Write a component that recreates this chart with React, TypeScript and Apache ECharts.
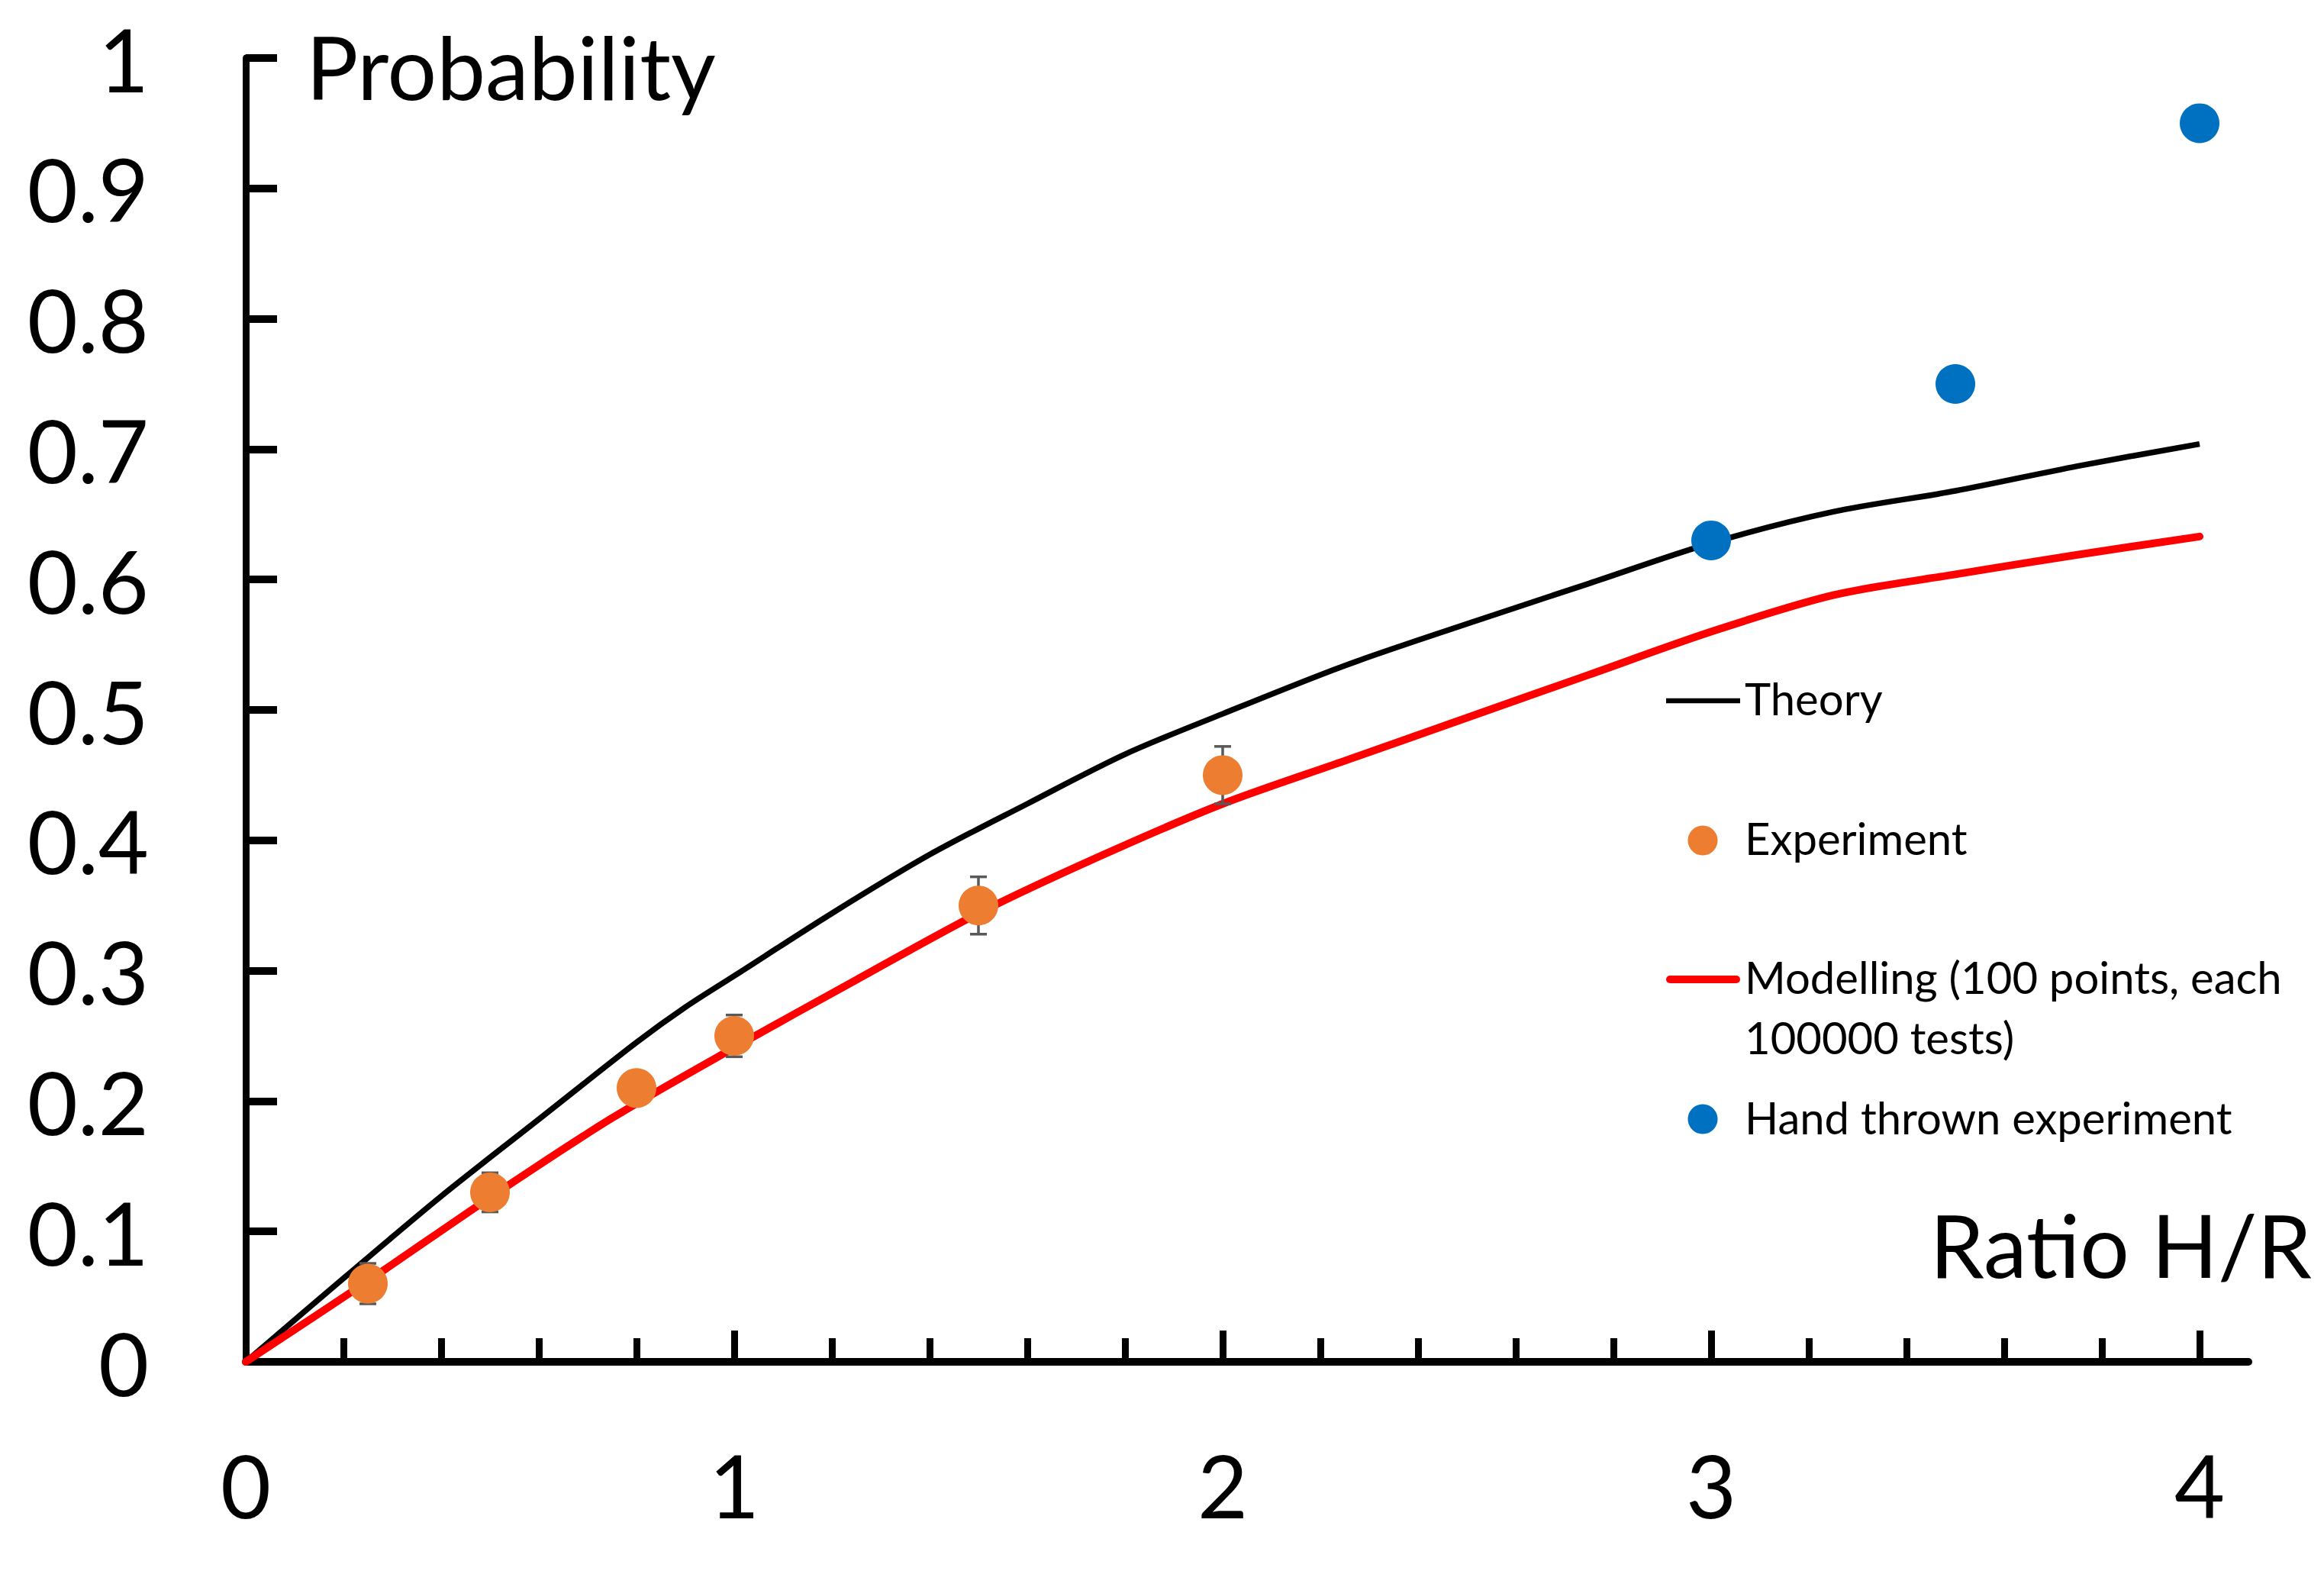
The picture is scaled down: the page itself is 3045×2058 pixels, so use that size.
import React, { useEffect, useRef } from "react";
import * as echarts from "echarts";

// ---- data ----
const THEORY_X = [0, 0.2, 0.4, 0.6, 0.8, 0.9, 1.0, 1.2, 1.4, 1.6, 1.8, 2.0, 2.25, 2.5, 2.75, 3.0, 3.25, 3.5, 3.75, 4.0];
const THEORY_Y = [0, 0.064, 0.127, 0.186, 0.245, 0.272, 0.296, 0.344, 0.389, 0.428, 0.466, 0.497, 0.534, 0.566, 0.597, 0.628, 0.652, 0.668, 0.687, 0.704];

const MODEL_X = [0, 0.25, 0.5, 0.75, 1.0, 1.25, 1.5, 1.75, 2.0, 2.25, 2.5, 2.75, 3.0, 3.25, 3.5, 3.75, 4.0];
const MODEL_Y = [0, 0.062, 0.126, 0.187, 0.241, 0.293, 0.344, 0.388, 0.428, 0.461, 0.494, 0.527, 0.56, 0.588, 0.604, 0.619, 0.633];

const EXP_X = [0.25, 0.5, 0.8, 1.0, 1.5, 2.0];
const EXP_Y = [0.06, 0.13, 0.21, 0.25, 0.35, 0.45];
const EXP_ERR = [0.0155, 0.015, 0, 0.016, 0.022, 0.022];

const HAND_X = [3, 3.5, 4];
const HAND_Y = [0.63, 0.75, 0.95];

const X_LABEL_VALUES = [0, 1, 2, 3, 4];
const X_MAJOR_TICKS = [1, 2, 3, 4];
const X_MINOR_TICKS = [0.2, 0.4, 0.6, 0.8, 1.2, 1.4, 1.6, 1.8, 2.2, 2.4, 2.6, 2.8, 3.2, 3.4, 3.6, 3.8];

const SERIES_NAMES = [
  "Theory",
  "Experiment",
  "Modelling (100 points, each\n100000 tests)",
  "Hand thrown experiment",
];

const C_THEORY = "#000000";
const C_EXP = "#ED7D31";
const C_MODEL = "#FF0000";
const C_HAND = "#0070C0";
const C_ERR = "#595959";
const FONT = "Lato";

export default function App() {
  const ref = useRef<HTMLDivElement>(null);

  useEffect(() => {
    if (!ref.current) return;
    const chart = echarts.init(ref.current, null, { renderer: "svg" });

    const theory = THEORY_X.map((x, i) => [x, THEORY_Y[i]]);
    const model = MODEL_X.map((x, i) => [x, MODEL_Y[i]]);
    const exp = EXP_X.map((x, i) => [x, EXP_Y[i]]);
    const errs = EXP_X.map((x, i) => [x, EXP_Y[i] - EXP_ERR[i], EXP_Y[i] + EXP_ERR[i]]);
    const hand = HAND_X.map((x, i) => [x, HAND_Y[i]]);

    const labelStyle = { fontFamily: FONT, fontSize: 114, color: "#000" };
    const legendText = { fontFamily: FONT, fontSize: 58, fill: "#000", align: "left" };

    const option: any = {
      animation: false,
      backgroundColor: "#ffffff",
      grid: { left: 322, top: 76, width: 2624, height: 1708, containLabel: false },
      xAxis: [
        {
          type: "value",
          min: 0,
          max: 4.1,
          name: "Ratio H/R",
          nameLocation: "end",
          nameGap: 83,
          nameTextStyle: {
            fontFamily: FONT,
            fontSize: 114,
            color: "#000",
            align: "right",
            verticalAlign: "bottom",
            lineHeight: 310,
          },
          axisLine: { show: true, onZero: false, lineStyle: { color: "#000", width: 10 } },
          axisTick: {
            show: true,
            inside: true,
            length: 41,
            customValues: X_MAJOR_TICKS,
            lineStyle: { color: "#000", width: 9 },
          },
          axisLabel: { ...labelStyle, margin: 103, customValues: X_LABEL_VALUES, showMinLabel: true, showMaxLabel: true },
          splitLine: { show: false },
        },
        {
          type: "value",
          min: 0,
          max: 4.1,
          position: "bottom",
          axisLine: { show: false },
          axisTick: {
            show: true,
            inside: true,
            length: 31,
            customValues: X_MINOR_TICKS,
            lineStyle: { color: "#000", width: 9 },
          },
          axisLabel: { show: false },
          splitLine: { show: false },
        },
      ],
      yAxis: {
        type: "value",
        min: 0,
        max: 1,
        interval: 0.1,
        name: "Probability",
        nameLocation: "end",
        nameGap: -10,
        nameTextStyle: {
          fontFamily: FONT,
          fontSize: 114,
          color: "#000",
          align: "left",
          verticalAlign: "middle",
          padding: [0, 0, 0, 79],
        },
        axisLine: { show: true, onZero: false, lineStyle: { color: "#000", width: 9 } },
        axisTick: { show: true, inside: true, length: 41, lineStyle: { color: "#000", width: 10 } },
        axisLabel: { ...labelStyle, margin: 127, formatter: (v: number) => String(Math.round(v * 10) / 10) },
        splitLine: { show: false },
      },
      series: [
        {
          name: SERIES_NAMES[0],
          type: "line",
          data: theory,
          showSymbol: false,
          symbol: "none",
          smooth: 0.3,
          z: 2,
          lineStyle: { color: C_THEORY, width: 7.5 },
          itemStyle: { color: C_THEORY },
        },
        {
          name: SERIES_NAMES[2],
          type: "line",
          data: model,
          showSymbol: false,
          symbol: "none",
          smooth: 0.3,
          z: 2,
          lineStyle: { color: C_MODEL, width: 10, cap: "round", join: "round" },
          itemStyle: { color: C_MODEL },
        },
        {
          name: "Experiment error",
          type: "custom",
          data: errs,
          encode: { x: 0, y: [1, 2] },
          z: 3,
          renderItem: (params: any, api: any) => {
            const x = api.value(0);
            const lo = api.value(1);
            const hi = api.value(2);
            if (hi - lo <= 0) return { type: "group", children: [] };
            const top = api.coord([x, hi]);
            const bot = api.coord([x, lo]);
            const hw = 11;
            const st = { stroke: C_ERR, lineWidth: 3.5 };
            return {
              type: "group",
              children: [
                { type: "line", shape: { x1: top[0], y1: top[1], x2: bot[0], y2: bot[1] }, style: st },
                { type: "line", shape: { x1: top[0] - hw, y1: top[1], x2: top[0] + hw, y2: top[1] }, style: st },
                { type: "line", shape: { x1: bot[0] - hw, y1: bot[1], x2: bot[0] + hw, y2: bot[1] }, style: st },
              ],
            };
          },
        },
        {
          name: SERIES_NAMES[1],
          type: "scatter",
          data: exp,
          symbol: "circle",
          symbolSize: 52,
          z: 4,
          itemStyle: { color: C_EXP, opacity: 1 },
        },
        {
          name: SERIES_NAMES[3],
          type: "scatter",
          data: hand,
          symbol: "circle",
          symbolSize: 52,
          z: 4,
          itemStyle: { color: C_HAND, opacity: 1 },
        },
      ],
      graphic: [
        {
          type: "group",
          children: [
            { type: "line", shape: { x1: 2183, y1: 918, x2: 2280, y2: 918 }, style: { stroke: C_THEORY, lineWidth: 6.5 } },
            { type: "text", x: 2286, y: 914, style: { ...legendText, text: SERIES_NAMES[0], verticalAlign: "middle" } },
            { type: "circle", shape: { cx: 2231, cy: 1101, r: 19.5 }, style: { fill: C_EXP } },
            { type: "text", x: 2286, y: 1097, style: { ...legendText, text: SERIES_NAMES[1], verticalAlign: "middle" } },
            {
              type: "line",
              shape: { x1: 2188, y1: 1283, x2: 2275, y2: 1283 },
              style: { stroke: C_MODEL, lineWidth: 10, lineCap: "round" },
            },
            {
              type: "text",
              x: 2286,
              y: 1239.5,
              style: { ...legendText, text: SERIES_NAMES[2], lineHeight: 79, verticalAlign: "top" },
            },
            { type: "circle", shape: { cx: 2231, cy: 1466, r: 19.5 }, style: { fill: C_HAND } },
            { type: "text", x: 2286, y: 1463, style: { ...legendText, text: SERIES_NAMES[3], verticalAlign: "middle" } },
          ],
        },
      ],
    };

    chart.setOption(option);
    return () => {
      chart.dispose();
    };
  }, []);

  return (
    <div
      ref={ref}
      style={{ position: "absolute", left: 0, top: 0, width: 3045, height: 2058, background: "#fff" }}
    />
  );
}
